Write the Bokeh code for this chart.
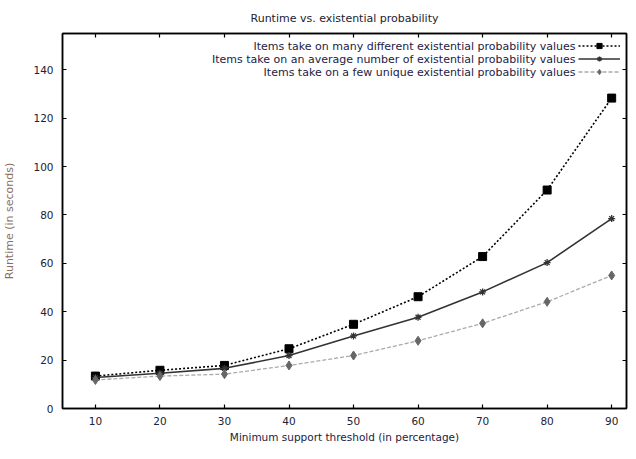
from bokeh.plotting import figure
from bokeh.models import Range1d, LinearAxis, FixedTicker, Legend, LegendItem, Label
from bokeh.embed import file_html
from bokeh.resources import INLINE

thresholds = [10, 20, 30, 40, 50, 60, 70, 80, 90]
many_values = [13.4, 15.8, 17.8, 24.7, 34.8, 46.2, 62.8, 90.3, 128.3]
average_values = [12.8, 14.6, 16.6, 21.9, 30.0, 37.7, 48.2, 60.3, 78.5]
few_values = [11.8, 13.4, 14.2, 17.8, 21.9, 28.0, 35.2, 44.1, 55.0]

title_text = "Runtime vs. existential probability"
series_labels = [
    "Items take on many different existential probability values",
    "Items take on an average number of existential probability values",
    "Items take on a few unique existential probability values",
]
x_ticks = [10, 20, 30, 40, 50, 60, 70, 80, 90]
y_ticks = [0, 20, 40, 60, 80, 100, 120, 140]

FONT = "DejaVu Sans"
FRAME_W, FRAME_H = 564, 375

p = figure(frame_width=FRAME_W, frame_height=FRAME_H, output_backend="svg", toolbar_location=None,
           x_range=Range1d(4.9, 92.3), y_range=Range1d(0, 155),
           min_border_left=54, min_border_right=2, min_border_top=33, min_border_bottom=35,
           title=title_text)
p.title.align = "center"
p.title.offset = 8
p.title.standoff = 17
p.title.text_font = FONT
p.title.text_font_size = "11px"
p.title.text_font_style = "normal"
p.title.text_color = "#222233"
p.grid.visible = False
p.outline_line_color = "black"
p.outline_line_width = 1.5
p.background_fill_color = "white"
p.border_fill_color = "white"

p.xaxis.ticker = FixedTicker(ticks=x_ticks)
p.yaxis.ticker = FixedTicker(ticks=y_ticks)
for ax in (p.xaxis[0], p.yaxis[0]):
    ax.axis_line_color = "black"
    ax.axis_line_width = 1.5
    ax.major_tick_in = 4
    ax.major_tick_out = 0
    ax.minor_tick_line_color = None
    ax.major_tick_line_color = "black"
    ax.major_tick_line_width = 1.2
    ax.major_label_text_font = FONT
    ax.major_label_text_font_size = "10.5px"
    ax.major_label_text_color = "#222233"
    ax.axis_label_text_font = FONT
    ax.axis_label_text_font_size = "10.5px"
    ax.axis_label_text_font_style = "normal"

p.xaxis.axis_label = "Minimum support threshold (in percentage)"
p.xaxis.axis_label_text_color = "#222244"
p.xaxis.major_label_standoff = 8
p.xaxis.axis_label_standoff = 3
p.yaxis.axis_label = "Runtime (in seconds)"
p.yaxis.axis_label_text_color = "#8a6e5e"
p.yaxis.axis_label_text_font_size = "11px"
p.yaxis.major_label_standoff = 9
p.yaxis.axis_label_standoff = 14

for loc, tks in (("above", x_ticks), ("right", y_ticks)):
    ax = LinearAxis(ticker=FixedTicker(ticks=tks), major_tick_in=4, major_tick_out=0,
                    major_label_overrides={t: "" for t in tks}, major_label_standoff=0,
                    minor_tick_line_color=None, axis_line_color="black",
                    axis_line_width=1.5, major_tick_line_width=1.2)
    p.add_layout(ax, loc)

l1 = p.line(thresholds, many_values, line_color="black", line_width=1.6, line_dash="2 2")
m1 = p.scatter(thresholds, many_values, marker="square", size=8, color="black")
l2 = p.line(thresholds, average_values, line_color="#333333", line_width=1.6)
m2 = p.scatter(thresholds, average_values, marker="asterisk", size=7, line_color="#333333", line_width=1.3)
l3 = p.line(thresholds, few_values, line_color="#aaaaaa", line_width=1.3, line_dash="4 2")
m3 = p.scatter(thresholds, few_values, marker="diamond", size=9, color="#666666")

legend = Legend(items=[LegendItem(label=" ", renderers=[l1, m1]),
                       LegendItem(label=" ", renderers=[l2, m2]),
                       LegendItem(label=" ", renderers=[l3, m3])],
                location="top_right", margin=1, padding=5, spacing=0,
                glyph_width=42, glyph_height=13, label_height=13, label_width=0,
                label_standoff=0, label_text_font_size="10px",
                background_fill_alpha=0, border_line_alpha=0)
p.add_layout(legend)

for i, txt in enumerate(series_labels):
    p.add_layout(Label(x=513, y=FRAME_H - 12.5 - 13 * i, x_units="screen", y_units="screen",
                       text=txt, text_align="right", text_baseline="middle",
                       text_font=FONT, text_font_size="11px", text_color="#222244"))

open("out.html", "w").write(file_html(p, INLINE))
